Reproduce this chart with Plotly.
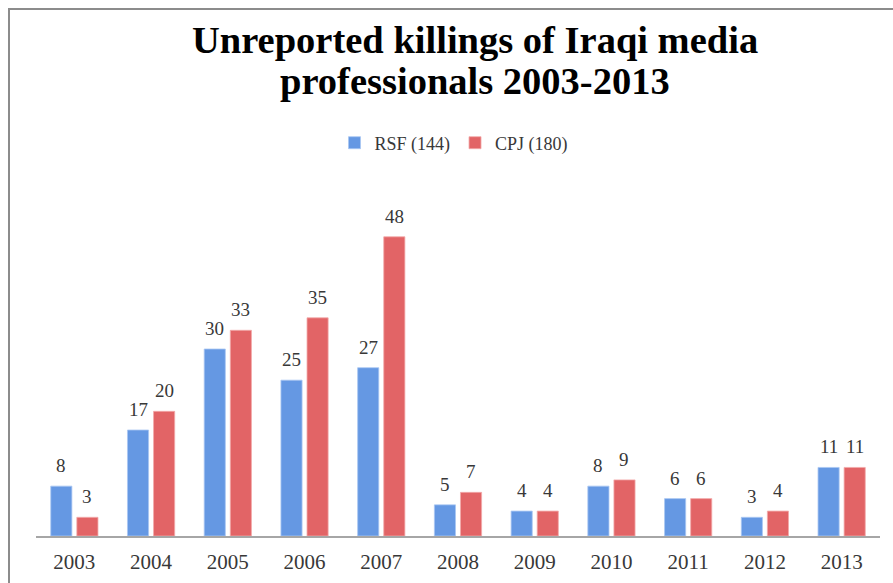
import plotly.graph_objects as go

years = ["2003", "2004", "2005", "2006", "2007", "2008", "2009", "2010", "2011", "2012", "2013"]
rsf = [8, 17, 30, 25, 27, 5, 4, 8, 6, 3, 11]
cpj = [3, 20, 33, 35, 48, 7, 4, 9, 6, 4, 11]
series_names = ["RSF (144)", "CPJ (180)"]
title_lines = ["Unreported killings of Iraqi media", "professionals 2003-2013"]

W, H = 893, 583
L, R, T, B = 36, 13, 162, 47
pw, ph = W - L - R, H - T - B
SERIF = "Liberation Serif"
TEXT_GRAY = "#383838"


def px_x(px):
    return (px - L) / pw


def px_y(py):
    return (H - B - py) / ph


fig = go.Figure()
fig.add_trace(go.Bar(
    x=years, y=rsf, name=series_names[0],
    marker=dict(color="#6598e3", line=dict(color="#a9c6f2", width=0.8)),
))
fig.add_trace(go.Bar(
    x=years, y=cpj, name=series_names[1],
    marker=dict(color="#e26466", line=dict(color="#f2aaaa", width=0.8)),
))

# value labels above each bar (blue bars left of centre, red bars right);
# x is the category index on the category axis
for values, shift in ((rsf, -13), (cpj, 13)):
    for i, v in enumerate(values):
        fig.add_annotation(
            x=i, y=v, xref="x", yref="y", text=str(v), showarrow=False,
            xanchor="center", yanchor="bottom", xshift=shift, yshift=8,
            font=dict(family=SERIF, size=19, color=TEXT_GRAY),
        )

# two-line title
for i, line in enumerate(title_lines):
    fig.add_annotation(
        x=px_x(475), y=px_y(40 + 41 * i), xref="paper", yref="paper",
        text=f"<b>{line}</b>", showarrow=False, xanchor="center", yanchor="middle",
        font=dict(family=SERIF, size=38.5, color="#000000"),
    )

# outer chart frame (top and left edges visible)
fig.add_shape(type="rect", xref="paper", yref="paper",
              x0=px_x(9), x1=px_x(W + 10), y0=px_y(H + 10), y1=px_y(9),
              line=dict(color="#8c8c8c", width=2), fillcolor="rgba(0,0,0,0)", layer="below")

fig.update_layout(
    width=W, height=H,
    margin=dict(l=L, r=R, t=T, b=B, autoexpand=False),
    paper_bgcolor="white", plot_bgcolor="white",
    barmode="group", bargap=0.32, bargroupgap=0.19,
    legend=dict(
        orientation="h", x=454 / W, xanchor="center", xref="container",
        y=1 - 143 / H, yanchor="middle", yref="container",
        font=dict(family=SERIF, size=18, color=TEXT_GRAY),
        itemwidth=30, traceorder="normal",
    ),
    xaxis=dict(
        type="category", range=[-0.5, len(years) - 0.5],
        showline=True, linecolor="#a6a6a6", linewidth=2, automargin=False,
        showgrid=False, ticks="", ticklabelstandoff=6,
        tickfont=dict(family=SERIF, size=21, color=TEXT_GRAY),
    ),
    yaxis=dict(range=[0, 60], visible=False, showgrid=False, zeroline=False, automargin=False),
    showlegend=True,
)

fig.write_html("out.html")
